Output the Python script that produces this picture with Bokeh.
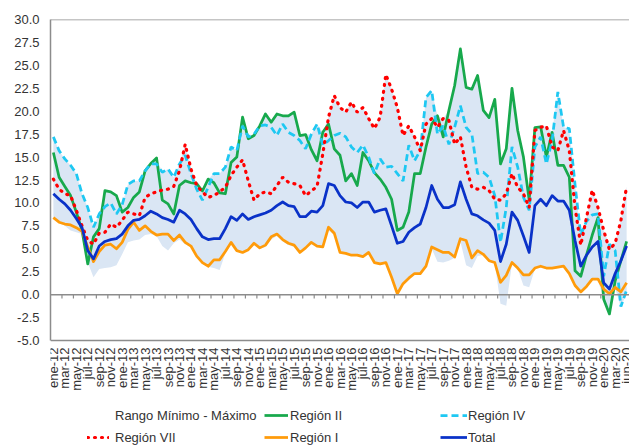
import math
from bokeh.plotting import figure
from bokeh.models import (ColumnDataSource, FixedTicker, Span, Legend, LegendItem,
                          Range1d, NumeralTickFormatter)
from bokeh.core.properties import value
from bokeh.embed import file_html
from bokeh.resources import INLINE

months = ["ene", "feb", "mar", "abr", "may", "jun", "jul", "ago", "sep", "oct", "nov", "dic"]
categories = [f"{m}-{y}" for y in range(12, 20) for m in months] + ["ene-20", "feb-20", "mar-20", "abr-20", "jun-20"]

total = [11.0, 10.4, 9.9, 9.2, 8.3, 7.3, 4.8, 3.9, 5.3, 5.8, 6.0, 6.1,
         6.6, 7.5, 8.1, 8.2, 8.6, 9.1, 8.8, 8.4, 8.2, 7.9, 9.2, 8.8,
         8.2, 7.2, 6.3, 6.0, 6.1, 6.1, 7.2, 8.5, 8.1, 8.8, 8.2, 8.5,
         8.7, 8.9, 9.2, 9.7, 10.1, 9.7, 9.6, 8.5, 8.5, 9.1, 9.0, 9.7,
         12.1, 11.9, 10.8, 10.1, 10.0, 9.5, 10.1, 10.1, 9.0, 9.2, 9.35, 7.5,
         5.6, 5.8, 6.8, 7.3, 7.7, 9.5, 11.9, 10.4, 9.5, 9.5, 9.8, 12.3,
         10.4, 8.8, 8.6, 8.15, 7.8, 7.0, 3.6, 5.5, 9.0, 8.1, 6.4, 4.6,
         9.7, 10.4, 9.7, 10.8, 10.2, 10.2, 9.2, 5.9, 3.1, 4.3, 5.2, 5.8,
         1.3, 0.6, 2.3, 3.7, 5.3]

region_i = [8.4, 7.9, 7.7, 7.6, 7.3, 6.9, 5.2, 3.6, 4.7, 5.4, 5.5, 5.0,
            5.7, 7.1, 7.9, 7.0, 7.5, 6.9, 6.5, 6.6, 6.6, 5.9, 6.5, 5.7,
            5.3, 4.2, 3.5, 3.1, 3.8, 3.8, 4.7, 5.7, 4.8, 4.6, 4.9, 5.6,
            5.1, 5.4, 6.3, 6.6, 6.0, 5.6, 5.4, 4.6, 5.1, 5.7, 5.3, 5.2,
            7.35, 6.7, 4.6, 4.5, 4.3, 4.3, 4.15, 4.6, 3.5, 3.35, 3.5, 1.9,
            0.1, 1.2, 1.8, 2.3, 2.3, 3.1, 5.2, 4.9, 4.6, 4.6, 4.1, 6.1,
            5.9, 4.0, 4.8, 4.4, 3.7, 3.5, 1.35, 2.1, 3.5, 2.9, 2.15, 2.15,
            2.9, 3.1, 2.9, 2.9, 3.0, 3.1, 2.3, 1.0, 0.3, 0.9, 1.7, 1.7,
            0.6, 0.1, 0.8, 0.3, 1.3]

region_ii = [15.5, 12.8, 11.8, 10.8, 9.0, 7.0, 3.35, 6.3, 7.2, 11.35, 11.2, 10.8,
             9.0, 9.5, 10.6, 11.2, 13.5, 14.3, 14.9, 10.3, 9.9, 8.8, 11.9, 12.4,
             12.2, 12.1, 11.3, 12.6, 12.2, 11.1, 11.0, 14.4, 15.0, 19.35, 17.0, 17.35,
             18.4, 19.7, 18.8, 19.7, 19.5, 19.5, 19.9, 17.35, 17.45, 15.8, 14.6, 17.7,
             18.6, 15.9, 15.2, 12.4, 13.2, 11.9, 15.5, 14.6, 13.3, 12.6, 11.7, 10.4,
             7.0, 7.35, 9.0, 13.2, 13.2, 16.1, 18.6, 19.5, 17.2, 20.1, 22.8, 26.8,
             22.6, 22.4, 23.9, 20.1, 19.3, 21.3, 14.25, 15.9, 22.5, 17.9, 15.0, 10.3,
             18.2, 18.3, 15.0, 17.7, 14.1, 14.1, 12.8, 2.6, 2.0, 4.3, 6.5, 8.4,
             -0.5, -2.1, 1.5, 3.7, 5.8]

region_iv = [17.2, 15.7, 14.8, 14.1, 13.2, 11.0, 9.5, 7.35, 8.8, 9.6, 10.0, 8.8,
             9.8, 12.0, 12.4, 12.4, 13.5, 14.25, 14.25, 13.35, 13.7, 12.8, 14.25, 15.2,
             13.2, 11.5, 10.3, 11.7, 13.2, 13.2, 13.9, 16.1, 15.7, 18.4, 17.2, 17.5,
             18.4, 18.5, 18.25, 17.35, 18.6, 17.7, 17.35, 16.8, 15.9, 17.5, 18.6, 16.3,
             16.8, 17.35, 17.6, 17.2, 16.1, 15.5, 16.3, 15.0, 13.2, 14.8, 13.9, 14.0,
             13.2, 12.4, 16.3, 14.6, 15.7, 21.5, 22.25, 17.5, 18.4, 16.4, 18.25, 20.6,
             18.25, 17.5, 13.2, 13.35, 12.8, 10.8, 5.7, 9.5, 16.1, 13.9, 10.6, 9.2,
             16.1, 17.2, 14.25, 16.8, 22.1, 18.25, 18.1, 12.0, 6.5, 8.0, 8.7, 8.8,
             2.0, 5.5, 4.8, -1.3, 0.5]

region_vii = [12.6, 11.5, 11.0, 10.8, 9.2, 7.5, 5.9, 5.5, 6.7, 6.8, 7.7, 7.35,
              8.1, 9.0, 8.8, 8.6, 10.6, 11.0, 11.2, 11.4, 11.5, 11.8, 13.5, 16.4,
              13.7, 11.9, 11.2, 10.6, 10.8, 11.2, 11.7, 13.0, 13.9, 14.7, 12.4, 10.3,
              11.0, 11.2, 11.0, 11.9, 12.8, 12.25, 12.1, 11.9, 10.8, 11.3, 11.8, 15.35,
              19.35, 21.7, 20.4, 19.9, 21.0, 19.9, 20.4, 19.2, 18.1, 19.35, 24.0, 22.4,
              20.4, 17.35, 18.4, 17.2, 15.7, 18.6, 19.2, 18.25, 19.2, 19.0, 16.4, 17.2,
              13.9, 11.7, 11.5, 11.7, 11.35, 10.4, 10.3, 11.0, 13.2, 11.7, 11.0, 9.5,
              17.9, 18.25, 18.4, 16.1, 15.7, 17.9, 15.7, 9.5, 5.4, 8.4, 11.4, 9.5,
              7.0, 4.9, 5.6, 8.1, 11.8]

range_min = [8.3, 7.8, 7.5, 7.0, 6.8, 6.6, 3.5, 1.9, 2.8, 2.9, 3.0, 3.2,
             4.4, 5.7, 5.9, 6.0, 6.5, 6.6, 6.4, 5.3, 4.8, 5.6, 6.0, 5.5,
             5.2, 4.1, 3.35, 3.05, 2.9, 2.7, 4.5, 5.5, 4.7, 4.5, 4.8, 5.4,
             5.0, 5.2, 6.0, 6.4, 5.8, 5.4, 5.2, 4.5, 5.0, 5.5, 5.2, 5.1,
             7.0, 6.5, 4.5, 4.4, 4.2, 4.2, 4.1, 4.5, 3.4, 3.3, 3.4, 1.8,
             0.0, 1.1, 1.7, 2.2, 2.2, 3.0, 5.0, 3.6, 3.5, 3.7, 4.0, 5.8,
             3.2, 2.9, 4.2, 4.3, 3.6, 3.4, -1.0, -1.2, 3.4, 2.8, 1.0, 0.8,
             2.8, 3.0, 2.8, 2.8, 2.9, 3.0, 2.2, 0.8, 0.2, 0.8, 1.6, 1.6,
             -0.6, -2.2, 0.7, -1.4, 0.2]

range_max = [17.2, 15.7, 14.8, 14.1, 13.2, 11.0, 9.5, 7.35, 8.8, 11.35, 11.2, 10.8,
             9.8, 12.0, 12.4, 12.4, 13.5, 14.3, 14.9, 13.35, 13.7, 12.8, 14.25, 16.4,
             13.7, 12.1, 11.5, 12.6, 13.2, 13.2, 13.9, 16.1, 15.7, 19.35, 17.2, 17.5,
             18.4, 19.7, 18.8, 19.7, 19.5, 19.5, 19.9, 17.35, 17.45, 17.5, 18.6, 17.7,
             19.35, 21.7, 20.4, 19.9, 21.0, 19.9, 20.4, 19.2, 18.1, 19.35, 24.0, 22.4,
             20.4, 17.35, 18.4, 17.2, 15.7, 21.5, 22.25, 19.5, 19.2, 20.1, 22.8, 26.8,
             22.6, 22.4, 23.9, 20.1, 19.3, 21.3, 14.25, 15.9, 22.5, 17.9, 15.0, 10.3,
             18.2, 18.3, 18.4, 17.7, 22.1, 18.25, 18.1, 12.0, 6.5, 8.4, 11.4, 9.5,
             7.0, 5.5, 5.6, 8.1, 11.8]

y_ticks = [-5.0, -2.5, 0.0, 2.5, 5.0, 7.5, 10.0, 12.5, 15.0, 17.5, 20.0, 22.5, 25.0, 27.5, 30.0]
Y_MIN, Y_MAX = -5.0, 30.0

idx = list(range(len(categories)))
src = ColumnDataSource(dict(x=idx, total=total, r1=region_i, r2=region_ii, r4=region_iv,
                            r7=region_vii, lo=range_min, hi=range_max))

FONT = "Liberation Sans"
TXT = "#333333"
AX = "#8c8c8c"

W, H = 629, 445
TOP, LEFT, PLOT_BOTTOM = 19, 50, 340     # pixel rows of the 30.0 and -5.0 lines
px_per_unit = (PLOT_BOTTOM - TOP) / (Y_MAX - Y_MIN)
y_low = Y_MAX - (H - TOP) / px_per_unit   # frame extends down to hold labels + legend

p = figure(width=W, height=H, output_backend="svg", toolbar_location=None,
           x_range=Range1d(-0.5, len(categories) - 0.5), y_range=Range1d(y_low, Y_MAX),
           min_border_left=LEFT, min_border_right=0, min_border_top=TOP, min_border_bottom=0)
p.outline_line_color = None
p.xgrid.visible = False
p.ygrid.visible = False
p.xaxis.visible = False
p.background_fill_color = "white"
p.border_fill_color = "white"

# y axis (line limited to the plotting area)
p.yaxis.ticker = FixedTicker(ticks=y_ticks)
p.yaxis.bounds = (Y_MIN, Y_MAX)
p.yaxis.formatter = NumeralTickFormatter(format="0.0")
p.yaxis.major_tick_out = 0
p.yaxis.major_tick_in = 0
p.yaxis.minor_tick_out = 0
p.yaxis.minor_tick_in = 0
p.yaxis.major_label_standoff = 11
p.yaxis.axis_line_color = AX
p.yaxis.axis_line_width = 1.5
p.yaxis.major_label_text_font = FONT
p.yaxis.major_label_text_font_size = "13px"
p.yaxis.major_label_text_color = TXT

# borders and zero line
for loc in (Y_MAX, Y_MIN, 0):
    p.add_layout(Span(location=loc, dimension="width", line_color=AX, line_width=1.5))
bx = [b - 0.5 for b in range(2, len(categories), 2)]
p.segment(x0=bx, y0=[0] * len(bx), x1=bx, y1=[-0.42] * len(bx), line_color=AX, line_width=1.2)

# category labels (every second month), rotated, below the -5 line
lab_x = list(range(0, len(categories), 2))
p.text(x=lab_x, y=[Y_MIN] * len(lab_x), text=[categories[i] for i in lab_x],
       angle=math.pi / 2, text_align="right", text_baseline="middle", y_offset=7,
       text_font=value(FONT), text_font_size=value("13px"), text_color=TXT)

band_color = "#dae6f4"
r_band = p.varea(x="x", y1="lo", y2="hi", source=src, fill_color=band_color)
r2 = p.line("x", "r2", source=src, line_color="#17a94c", line_width=2.75, line_join="round")
r4 = p.line("x", "r4", source=src, line_color="#1ec8f2", line_width=2.75, line_dash="7 4")
r7 = p.line("x", "r7", source=src, line_color="#ff0000", line_width=3.2, line_dash="1 6",
            line_cap="round")
r1 = p.line("x", "r1", source=src, line_color="#ff9b0a", line_width=2.75, line_join="round")
rt = p.line("x", "total", source=src, line_color="#0a32c8", line_width=2.75, line_join="round")
# legend swatch for the band (thin bar, as in the original)
band_proxy = p.line(x=[], y=[], line_color=band_color, line_width=7)

def column_legend(items, vx, gw, standoff):
    lg = Legend(items=[LegendItem(label=l, renderers=[r]) for l, r in items],
                location=(vx, 0), orientation="vertical",
                glyph_width=gw, glyph_height=16, label_height=16, label_standoff=standoff,
                padding=0, margin=0, spacing=6,
                border_line_color=None, background_fill_alpha=0,
                label_text_font=FONT, label_text_font_size="13px", label_text_color=TXT)
    p.add_layout(lg, "center")

column_legend([("Rango Mínimo - Máximo", band_proxy), ("Región VII", r7)], 37, 22, 6)
column_legend([("Región II", r2), ("Región I", r1)], 214, 24, 2)
column_legend([("Región IV", r4), ("Total", rt)], 390, 27, 1)

open("out.html", "w").write(file_html(p, INLINE))
